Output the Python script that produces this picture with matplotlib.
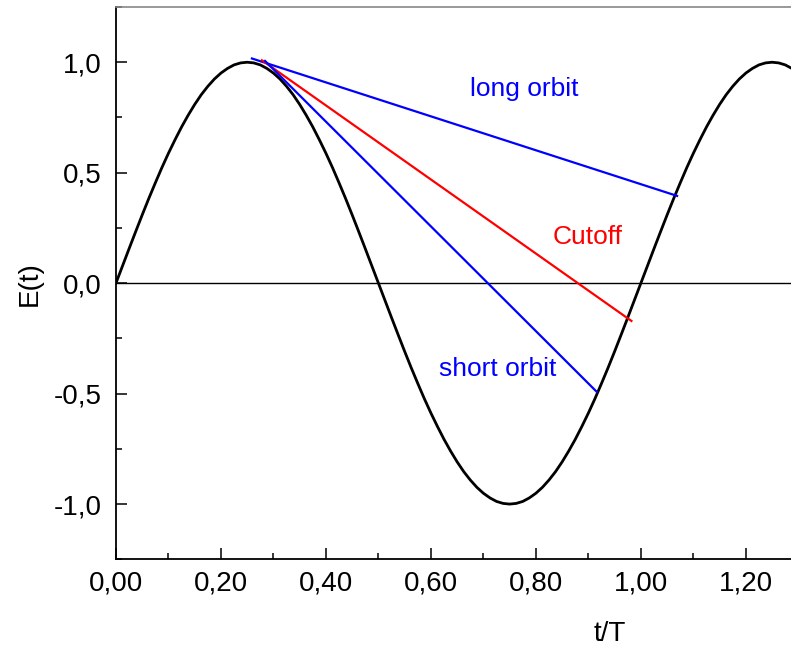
import numpy as np
import matplotlib.pyplot as plt
from matplotlib.ticker import MultipleLocator, FuncFormatter

plt.rcParams['font.family'] = ['Liberation Sans', 'DejaVu Sans']

# field E(t), t/T in steps of 0.0125
t = np.arange(105) * 0.0125
E = [0.000, 0.078, 0.156, 0.233, 0.309, 0.383, 0.454, 0.523, 0.588, 0.649,
     0.707, 0.760, 0.809, 0.853, 0.891, 0.924, 0.951, 0.972, 0.988, 0.997,
     1.000, 0.997, 0.988, 0.972, 0.951, 0.924, 0.891, 0.853, 0.809, 0.760,
     0.707, 0.649, 0.588, 0.523, 0.454, 0.383, 0.309, 0.233, 0.156, 0.078,
     0.000, -0.078, -0.156, -0.233, -0.309, -0.383, -0.454, -0.523, -0.588, -0.649,
     -0.707, -0.760, -0.809, -0.853, -0.891, -0.924, -0.951, -0.972, -0.988, -0.997,
     -1.000, -0.997, -0.988, -0.972, -0.951, -0.924, -0.891, -0.853, -0.809, -0.760,
     -0.707, -0.649, -0.588, -0.523, -0.454, -0.383, -0.309, -0.233, -0.156, -0.078,
     0.000, 0.078, 0.156, 0.233, 0.309, 0.383, 0.454, 0.523, 0.588, 0.649,
     0.707, 0.760, 0.809, 0.853, 0.891, 0.924, 0.951, 0.972, 0.988, 0.997,
     1.000, 0.997, 0.988, 0.972, 0.951]

# trajectories: (t start, t end), (E start, E end)
long_t = [0.259, 1.069]
long_E = [1.017, 0.395]
cut_t = [0.278, 0.982]
cut_E = [1.009, -0.171]
short_t = [0.284, 0.916]
short_E = [1.006, -0.492]

fig = plt.figure(figsize=(7.91, 6.49), dpi=100)
ax = fig.add_axes([0.1466, 0.1382, 0.8534, 0.851])

ax.axhline(0, color='black', lw=1)
ax.plot(t, E, color='black', lw=2, solid_capstyle='round')
ax.plot(long_t, long_E, color='blue', lw=1.6)
ax.plot(cut_t, cut_E, color='red', lw=1.6)
ax.plot(short_t, short_E, color='blue', lw=1.6)

ax.text(0.777, 0.878, 'long orbit', color='blue', fontsize=19, ha='center', va='center')
ax.text(0.899, 0.21, 'Cutoff', color='red', fontsize=19, ha='center', va='center')
ax.text(0.727, -0.389, 'short orbit', color='blue', fontsize=19, ha='center', va='center')

ax.set_xlim(0, 1.286)
ax.set_ylim(-1.25, 1.25)

ax.xaxis.set_major_locator(MultipleLocator(0.2))
ax.xaxis.set_minor_locator(MultipleLocator(0.1))
ax.yaxis.set_major_locator(MultipleLocator(0.5))
ax.yaxis.set_minor_locator(MultipleLocator(0.25))
ax.xaxis.set_major_formatter(FuncFormatter(lambda v, p: f'{v:.2f}'.replace('.', ',')))
ax.yaxis.set_major_formatter(FuncFormatter(lambda v, p: f'{v:.1f}'.replace('.', ',')))

ax.tick_params(which='both', direction='in', width=1.1, labelsize=20, top=False, right=False)
ax.tick_params(which='major', length=8)
ax.tick_params(which='minor', length=4.5)
ax.tick_params(axis='y', pad=10)
ax.tick_params(axis='x', pad=8)

ax.spines['right'].set_visible(False)
ax.spines['top'].set_color('#888888')
ax.spines['top'].set_linewidth(1.2)
for s in ['left', 'bottom']:
    ax.spines[s].set_linewidth(1.3)

ax.set_xlabel('t/T', fontsize=20)
ax.xaxis.set_label_coords(0.732, -0.112)
ax.set_ylabel('E(t)', fontsize=20)
ax.yaxis.set_label_coords(-0.108, 0.5)

fig.savefig('out.png', dpi=100)
